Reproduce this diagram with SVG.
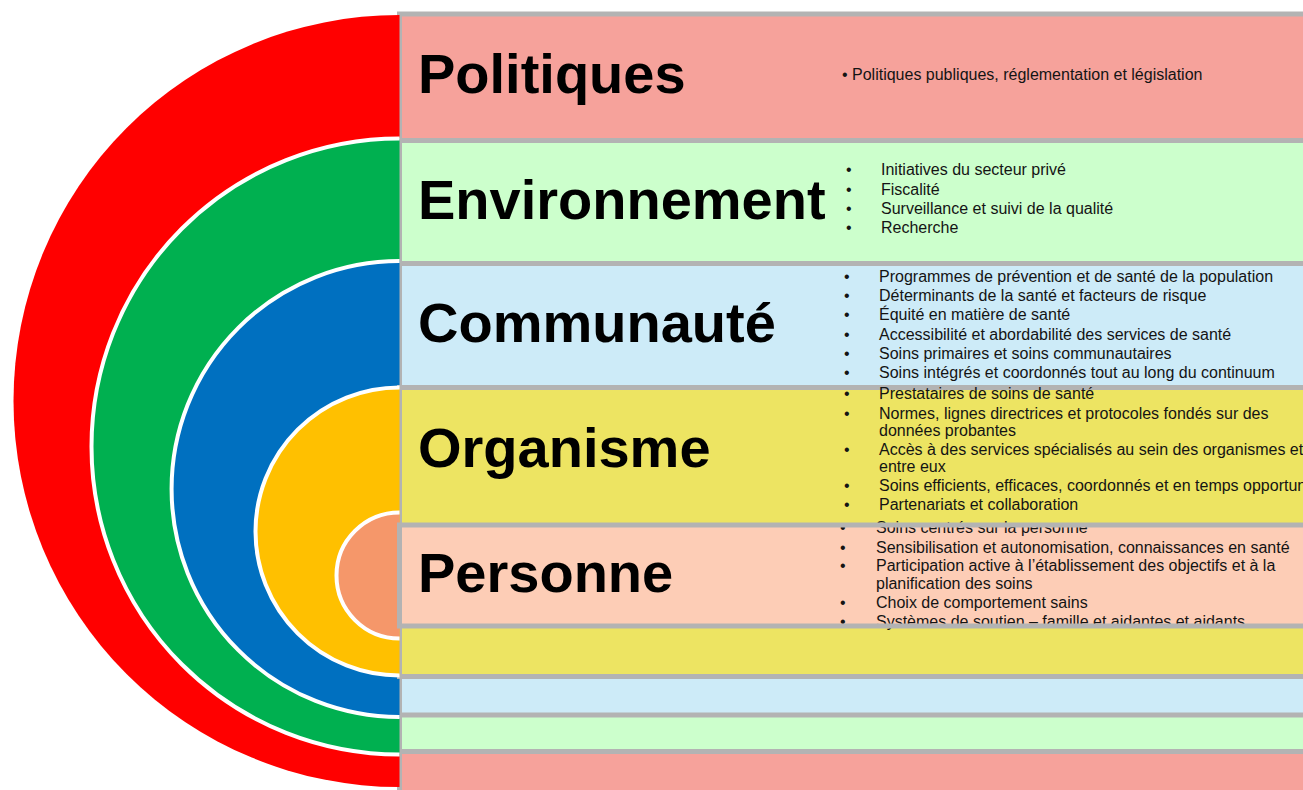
<svg xmlns="http://www.w3.org/2000/svg" width="1303" height="790" viewBox="0 0 1303 790">
  <style>
    .band { stroke: #b3b3b3; stroke-width: 5; }
    .arc { stroke: #ffffff; stroke-width: 4; }
    .title { font-family: "Liberation Sans", Arial, sans-serif; font-weight: bold; font-size: 56px; fill: #000000; }
    .item { font-family: "Liberation Sans", Arial, sans-serif; font-size: 16px; fill: #141414; }
  </style>
  <rect width="1303" height="790" fill="#ffffff"/>

  <!-- Level 1: policies (outermost) -->
  <g id="politiques">
    <rect class="band" x="399.5" y="14" width="960" height="820" fill="#f6a29b"/>
    <path d="M399.5,15 A386,386 0 0 0 399.5,787 Z" fill="#ff0000"/>
    <text class="title" x="418" y="93">Politiques</text>
    <text class="item" x="842" y="80">•</text>
    <text class="item" x="852" y="80">Politiques publiques, réglementation et législation</text>
  </g>

  <!-- Level 2: environment -->
  <g id="environnement">
    <rect class="band" x="399.5" y="140.5" width="960" height="611" fill="#ccffcc"/>
    <path class="arc" d="M399.5,138.5 A308,308 0 0 0 399.5,754.5" fill="#00b050"/>
    <text class="title" x="418" y="219">Environnement</text>
    <g class="item">
      <text x="846" y="175">•</text><text x="881" y="175">Initiatives du secteur privé</text>
      <text x="846" y="195">•</text><text x="881" y="195">Fiscalité</text>
      <text x="846" y="214">•</text><text x="881" y="214">Surveillance et suivi de la qualité</text>
      <text x="846" y="233">•</text><text x="881" y="233">Recherche</text>
    </g>
  </g>

  <!-- Level 3: community -->
  <g id="communaute">
    <rect class="band" x="399.5" y="263.5" width="960" height="451.5" fill="#cdebf8"/>
    <path class="arc" d="M399.5,261 A228,228 0 0 0 399.5,717" fill="#0070c0"/>
    <text class="title" x="418" y="342">Communauté</text>
    <g class="item">
      <text x="844" y="282">•</text><text x="879" y="282">Programmes de prévention et de santé de la population</text>
      <text x="844" y="301">•</text><text x="879" y="301">Déterminants de la santé et facteurs de risque</text>
      <text x="844" y="320">•</text><text x="879" y="320">Équité en matière de santé</text>
      <text x="844" y="340">•</text><text x="879" y="340">Accessibilité et abordabilité des services de santé</text>
      <text x="844" y="359">•</text><text x="879" y="359">Soins primaires et soins communautaires</text>
      <text x="844" y="378">•</text><text x="879" y="378">Soins intégrés et coordonnés tout au long du continuum</text>
    </g>
  </g>

  <!-- Level 4: organisation -->
  <g id="organisme">
    <rect class="band" x="399.5" y="387.5" width="960" height="289" fill="#ede462"/>
    <path class="arc" d="M399.5,387.5 A144,144 0 0 0 399.5,675.5" fill="#ffc000"/>
    <text class="title" x="418" y="467">Organisme</text>
    <g class="item">
      <text x="844" y="399">•</text><text x="879" y="399">Prestataires de soins de santé</text>
      <text x="844" y="419">•</text><text x="879" y="419">Normes, lignes directrices et protocoles fondés sur des</text>
      <text x="879" y="436">données probantes</text>
      <text x="844" y="455">•</text><text x="879" y="455">Accès à des services spécialisés au sein des organismes et</text>
      <text x="879" y="472">entre eux</text>
      <text x="844" y="491">•</text><text x="879" y="491">Soins efficients, efficaces, coordonnés et en temps opportun</text>
      <text x="844" y="510">•</text><text x="879" y="510">Partenariats et collaboration</text>
    </g>
  </g>

  <!-- Level 5: person (innermost) -->
  <g id="personne">
    <rect x="399.5" y="525" width="960" height="101" fill="#fdcdb6"/>
    <path class="arc" d="M399.5,512.5 A63,63 0 0 0 399.5,638.5" fill="#f5976a"/>
    <text class="title" x="418" y="592">Personne</text>
    <g class="item">
      <text x="840" y="533">•</text><text x="876" y="533">Soins centrés sur la personne</text>
      <text x="840" y="553">•</text><text x="876" y="553">Sensibilisation et autonomisation, connaissances en santé</text>
      <text x="840" y="571">•</text><text x="876" y="571">Participation active à l’établissement des objectifs et à la</text>
      <text x="876" y="589">planification des soins</text>
      <text x="840" y="608">•</text><text x="876" y="608">Choix de comportement sains</text>
      <text x="840" y="627">•</text><text x="876" y="627">Systèmes de soutien – famille et aidantes et aidants</text>
    </g>
    <rect class="band" x="399.5" y="525" width="960" height="101" fill="none"/>
  </g>
</svg>
